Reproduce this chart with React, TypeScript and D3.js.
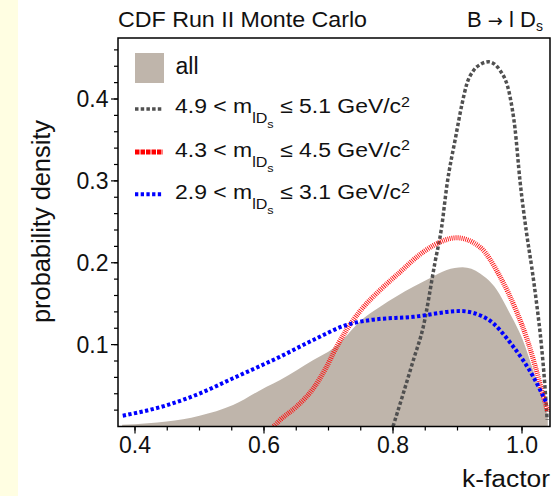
import React from "react";
import * as d3 from "d3";

// ---- data ----
const allK = [0.38, 0.42, 0.449, 0.5, 0.552, 0.604, 0.625, 0.6765, 0.7075, 0.754, 0.78, 0.8315, 0.857, 0.8833, 0.908, 0.935, 0.96, 0.98, 1.0, 1.02, 1.04];
const allV = [0.002, 0.004, 0.006, 0.0132, 0.0263, 0.0486, 0.0568, 0.0812, 0.0955, 0.132, 0.1463, 0.1707, 0.181, 0.191, 0.1944, 0.187, 0.168, 0.14, 0.108, 0.062, 0.012];

const grayK = [0.8, 0.815, 0.8315, 0.847, 0.865, 0.8755, 0.8833, 0.8975, 0.9065, 0.9143, 0.925, 0.935, 0.948, 0.9659, 0.9814, 0.989, 0.9969, 1.0073, 1.015, 1.0227, 1.03, 1.035, 1.039];
const grayV = [0.0, 0.038, 0.081, 0.122, 0.2, 0.244, 0.293, 0.355, 0.392, 0.418, 0.435, 0.442, 0.4455, 0.435, 0.403, 0.365, 0.3, 0.235, 0.195, 0.15, 0.1, 0.055, 0.008];

const redK = [0.615, 0.625, 0.65, 0.6765, 0.695, 0.7127, 0.728, 0.75, 0.78, 0.81, 0.84, 0.8625, 0.8988, 0.935, 0.966, 0.9918, 1.0073, 1.02, 1.033, 1.04];
const redV = [0.0, 0.008, 0.024, 0.0466, 0.07, 0.0975, 0.118, 0.142, 0.1667, 0.188, 0.209, 0.221, 0.2305, 0.219, 0.183, 0.14, 0.108, 0.075, 0.037, 0.018];

const blueK = [0.381, 0.449, 0.5008, 0.552, 0.625, 0.6765, 0.728, 0.764, 0.8315, 0.904, 0.945, 0.9865, 1.0175, 1.038];
const blueV = [0.0132, 0.0259, 0.0405, 0.0589, 0.0853, 0.1057, 0.124, 0.13, 0.134, 0.141, 0.132, 0.0975, 0.0608, 0.0283];

const xTicks = [0.4, 0.6, 0.8, 1.0];
const xTickLabels = ["0.4", "0.6", "0.8", "1.0"];
const yTicks = [0.1, 0.2, 0.3, 0.4];
const yTickLabels = ["0.1", "0.2", "0.3", "0.4"];

const legendMass = [
  ["4.9", "5.1"],
  ["4.3", "4.5"],
  ["2.9", "3.1"],
];

const FONT = "'Liberation Sans', Arial, Helvetica, sans-serif";

export default function App() {
  const W = 558, H = 496;
  const left = 118, right = 550, top = 38, bottom = 426.5;
  const x = d3.scaleLinear().domain([0.4, 1.0]).range([135, 522]);
  const y = d3.scaleLinear().domain([0, 0.4]).range([426.5, 99]);

  const pts = (ks: number[], vs: number[]) => ks.map((k, i) => [k, vs[i]] as [number, number]);

  const line = d3.line<[number, number]>().x(d => x(d[0])).y(d => y(d[1])).curve(d3.curveMonotoneX);
  const area = d3.area<[number, number]>().x(d => x(d[0])).y0(y(0)).y1(d => y(d[1])).curve(d3.curveMonotoneX);

  const xMinor = d3.range(0.4, 1.0001, 0.05);
  const yMinor = d3.range(0.02, 0.4701, 0.02);

  const grayStyle = { stroke: "#505050", strokeWidth: 3.5, strokeDasharray: "3.5,2.2", fill: "none" };
  const redStyle = { stroke: "#ff1010", strokeWidth: 5, strokeDasharray: "0.9,1.1", fill: "none" };
  const blueStyle = { stroke: "#0000ff", strokeWidth: 4, strokeDasharray: "3.3,2.4", fill: "none" };
  const redLegStyle = { stroke: "#ff0000", strokeWidth: 5, strokeDasharray: "4.5,1", fill: "none" };
  const styles = [grayStyle, redLegStyle, blueStyle];
  const legY = [109, 152, 194.3];
  const legBase = [113, 156.5, 199];

  return (
    <svg width={W} height={H} style={{ position: "absolute", left: 0, top: 0, background: "#fff" }} fontFamily={FONT}>
      <rect x={0} y={0} width={18} height={H} fill="#fffee2" />
      <defs>
        <clipPath id="plotclip">
          <rect x={left} y={top} width={right - left} height={bottom - top} />
        </clipPath>
      </defs>

      {/* title */}
      <text x={118} y={26.5} fontSize={22} textLength={249} lengthAdjust="spacingAndGlyphs" fill="#111">CDF Run II Monte Carlo</text>
      <text x={467} y={26.5} fontSize={22} fill="#111">
        B <tspan fontFamily="'DejaVu Sans', sans-serif" fontSize={18}>→</tspan> l D<tspan fontSize={14} dy={4}>s</tspan>
      </text>

      {/* data */}
      <g clipPath="url(#plotclip)">
        <path d={area(pts(allK, allV)) || ""} fill="#bfb5ab" />
        <path d={line(pts(grayK, grayV)) || ""} {...grayStyle} />
        <path d={line(pts(redK, redV)) || ""} {...redStyle} />
        <path d={line(pts(blueK, blueV)) || ""} {...blueStyle} />
      </g>

      {/* frame */}
      <rect x={left} y={top} width={right - left} height={bottom - top} fill="none" stroke="#000" strokeWidth={1.5} />

      {/* x ticks */}
      {xMinor.map((t, i) => (
        <line key={"xm" + i} x1={x(t)} x2={x(t)} y1={bottom} y2={bottom + 4} stroke="#000" strokeWidth={1.2} />
      ))}
      {xTicks.map((t, i) => (
        <g key={"xt" + i}>
          <line x1={x(t)} x2={x(t)} y1={bottom} y2={bottom + 7} stroke="#000" strokeWidth={1.2} />
          <text x={x(t)} y={452.5} fontSize={23} textAnchor="middle" fill="#111">{xTickLabels[i]}</text>
        </g>
      ))}

      {/* y ticks */}
      {yMinor.map((t, i) => (
        <line key={"ym" + i} x1={left - 4} x2={left} y1={y(t)} y2={y(t)} stroke="#000" strokeWidth={1.2} />
      ))}
      {yTicks.map((t, i) => (
        <g key={"yt" + i}>
          <line x1={left - 7} x2={left} y1={y(t)} y2={y(t)} stroke="#000" strokeWidth={1.2} />
          <text x={108.5} y={y(t) + 8} fontSize={23} textAnchor="end" fill="#111">{yTickLabels[i]}</text>
        </g>
      ))}

      {/* axis titles */}
      <text x={550} y={487} fontSize={23.5} textAnchor="end" textLength={88} lengthAdjust="spacingAndGlyphs" fill="#111">k-factor</text>
      <text transform="translate(50,221.5) rotate(-90)" fontSize={25} textAnchor="middle" textLength={203} lengthAdjust="spacingAndGlyphs" fill="#111">probability density</text>

      {/* legend */}
      <rect x={135} y={53} width={29} height={30} fill="#bfb5ab" />
      <text x={175.5} y={74} fontSize={23} fill="#111">all</text>
      {legendMass.map((m, i) => (
        <g key={"leg" + i}>
          <line x1={135} x2={163} y1={legY[i]} y2={legY[i]} {...styles[i]} />
          <text x={175} y={legBase[i]} fontSize={20} fill="#111" textLength={235} lengthAdjust="spacingAndGlyphs">
            {m[0]} &lt; m<tspan fontSize={14} dy={10}>lD</tspan><tspan fontSize={11} dy={5}>s</tspan><tspan fontSize={20} dy={-15}> ≤ {m[1]} GeV/c</tspan><tspan fontSize={14} dy={-6.5}>2</tspan>
          </text>
        </g>
      ))}
    </svg>
  );
}
